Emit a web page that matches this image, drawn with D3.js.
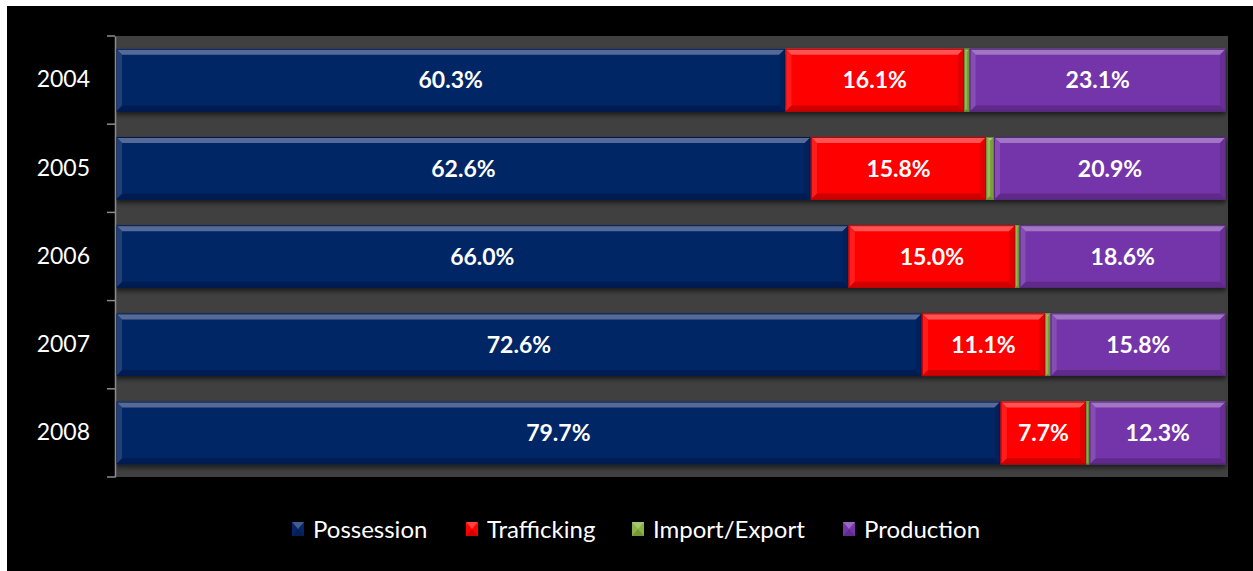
<!DOCTYPE html>
<html>
<head>
<meta charset="utf-8">
<script src="https://cdn.jsdelivr.net/npm/d3@7"></script>
<style>
  html, body { margin: 0; padding: 0; background: #ffffff; }
  svg { display: block; }
  text { font-family: Lato, "Open Sans", sans-serif; }
</style>
</head>
<body>
<svg id="chart" width="1253" height="571"></svg>
<script>
// Offence shares by year (percent of all offences)
const years = ["2004", "2005", "2006", "2007", "2008"];
const seriesNames = ["Possession", "Trafficking", "Import/Export", "Production"];
const possession   = [60.3, 62.6, 66.0, 72.6, 79.7];
const trafficking  = [16.1, 15.8, 15.0, 11.1, 7.7];
const importExport = [0.5, 0.7, 0.4, 0.5, 0.3];
const production   = [23.1, 20.9, 18.6, 15.8, 12.3];
const seriesColors = ["#062566", "#ff0000", "#8ab344", "#7535aa"];
const xDomain = [0, 100];

const rows = years.map((y, i) => ({
  year: y,
  "Possession": possession[i],
  "Trafficking": trafficking[i],
  "Import/Export": importExport[i],
  "Production": production[i]
}));

const svg = d3.select("#chart");
const W = 1253, H = 571;

// black chart area
svg.append("rect").attr("x", 7).attr("y", 6).attr("width", W - 7).attr("height", H - 6).attr("fill", "#000");

const plot = { left: 115, right: 1227, top: 36, bottom: 477 };

const x = d3.scaleLinear().domain(xDomain).range([plot.left + 1, plot.right - 1]);
const y = d3.scaleBand().domain(years).range([plot.top, plot.bottom])
  .paddingInner(0.29).paddingOuter(0.145);
const color = d3.scaleOrdinal().domain(seriesNames).range(seriesColors);

// plot background
svg.append("rect")
  .attr("x", plot.left).attr("y", plot.top)
  .attr("width", plot.right - plot.left + 1).attr("height", plot.bottom - plot.top)
  .attr("fill", "#404040");

const defs = svg.append("defs");
const shadow = defs.append("filter").attr("id", "shadow").attr("x", "-5%").attr("y", "-20%").attr("width", "110%").attr("height", "160%");
shadow.append("feGaussianBlur").attr("in", "SourceAlpha").attr("stdDeviation", 2.5).attr("result", "b");
shadow.append("feOffset").attr("in", "b").attr("dy", 3).attr("result", "o");
shadow.append("feComponentTransfer").attr("in", "o").attr("result", "s")
  .append("feFuncA").attr("type", "linear").attr("slope", 0.6);
const merge = shadow.append("feMerge");
merge.append("feMergeNode").attr("in", "s");
merge.append("feMergeNode").attr("in", "SourceGraphic");

const stacked = d3.stack().keys(seriesNames)(rows);

// bevelled bar segment drawn as face + four edge facets
function bevel(g, x0, x1, y0, h, fill) {
  const w = x1 - x0;
  const b = Math.min(6, w / 2, h / 2);
  const c = d3.color(fill);
  const light = d3.interpolateRgb(fill, "#ffffff")(0.32);
  const lighter = d3.interpolateRgb(fill, "#ffffff")(0.12);
  const dark = c.darker(0.6).formatHex();
  const darker = c.darker(0.35).formatHex();
  const y1 = y0 + h;
  g.append("rect").attr("x", x0).attr("y", y0).attr("width", w).attr("height", h).attr("fill", fill);
  const facet = pts => g.append("path").attr("d", "M" + pts.map(p => p.join(",")).join("L") + "Z");
  facet([[x0, y0], [x1, y0], [x1 - b, y0 + b], [x0 + b, y0 + b]]).attr("fill", light);
  facet([[x0, y1], [x1, y1], [x1 - b, y1 - b], [x0 + b, y1 - b]]).attr("fill", dark);
  facet([[x0, y0], [x0 + b, y0 + b], [x0 + b, y1 - b], [x0, y1]]).attr("fill", lighter);
  facet([[x1, y0], [x1 - b, y0 + b], [x1 - b, y1 - b], [x1, y1]]).attr("fill", darker);
  g.append("rect").attr("x", x0 + 0.5).attr("y", y0 + 0.5).attr("width", Math.max(0, w - 1)).attr("height", h - 1)
    .attr("fill", "none").attr("stroke", c.darker(0.8).formatHex()).attr("stroke-width", 1);
}

const barsG = svg.append("g").attr("filter", "url(#shadow)");
stacked.forEach(layer => {
  const fill = color(layer.key);
  layer.forEach(d => {
    const g = barsG.append("g");
    bevel(g, x(d[0]), x(d[1]), y(d.data.year), y.bandwidth(), fill);
  });
});

// value labels (Import/Export too thin to label)
const labelG = svg.append("g");
stacked.filter(l => l.key !== "Import/Export").forEach(layer => {
  layer.forEach(d => {
    labelG.append("text")
      .attr("x", (x(d[0]) + x(d[1])) / 2)
      .attr("y", y(d.data.year) + y.bandwidth() / 2)
      .attr("dy", "0.36em")
      .attr("text-anchor", "middle")
      .attr("fill", "#ffffff")
      .attr("font-weight", 700)
      .attr("font-size", 23)
      .text(d3.format(".1f")(d.data[layer.key]) + "%");
  });
});

// category axis
const yAxis = d3.axisLeft(y).tickSize(0).tickPadding(25);
const axG = svg.append("g").attr("transform", `translate(${plot.left},0)`).call(yAxis);
axG.select(".domain").attr("stroke", "#8c8c8c").attr("stroke-width", 1.5);
axG.selectAll(".tick text").attr("fill", "#ffffff").attr("font-size", 23)
  .style("font-family", "Lato, 'Open Sans', sans-serif");
// boundary tick marks between categories
const bounds = years.map(yy => y(yy) - y.step() * y.paddingInner() / 2);
bounds.push(plot.bottom);
bounds[0] = plot.top;
axG.selectAll(".bound").data(bounds).join("line")
  .attr("class", "bound")
  .attr("x1", -8).attr("x2", 0)
  .attr("y1", d => d).attr("y2", d => d)
  .attr("stroke", "#8c8c8c").attr("stroke-width", 1.5);

// legend
const legendX = [292, 466, 632, 843];
const legend = svg.append("g");
seriesNames.forEach((name, i) => {
  const g = legend.append("g").attr("transform", `translate(${legendX[i]},522)`);
  const fill = color(name);
  const c = d3.color(fill);
  const sw = 12, sh = 14;
  g.append("rect").attr("width", sw).attr("height", sh).attr("fill", fill);
  g.append("path").attr("d", `M0,0L${sw},0L${sw/2},${sh/2}Z`).attr("fill", d3.interpolateRgb(fill, "#fff")(0.25));
  g.append("path").attr("d", `M0,${sh}L${sw},${sh}L${sw/2},${sh/2}Z`).attr("fill", c.darker(0.5).formatHex());
  g.append("text").attr("x", 21).attr("y", sh / 2).attr("dy", "0.36em")
    .attr("fill", "#ffffff").attr("font-size", 24).text(name);
});
</script>
</body>
</html>
